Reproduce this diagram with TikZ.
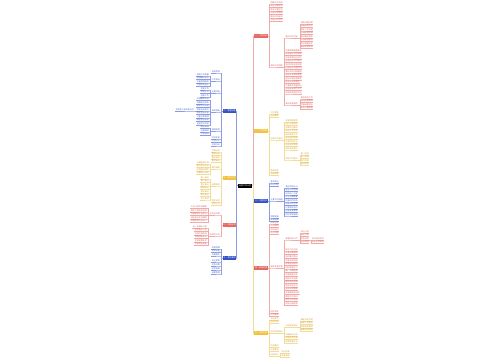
\documentclass[tikz,border=0pt]{standalone}
\usepackage{fontspec}
\setmainfont{Noto Sans CJK SC}

\definecolor{redA}{RGB}{230,104,98}
\definecolor{redB}{RGB}{240,170,170}
\definecolor{redT}{RGB}{214,100,95}
\definecolor{yelA}{RGB}{242,194,62}
\definecolor{yelB}{RGB}{242,220,150}
\definecolor{yelT}{RGB}{204,160,50}
\definecolor{bluA}{RGB}{52,82,196}
\definecolor{bluB}{RGB}{140,158,225}
\definecolor{bluT}{RGB}{80,104,200}

% children to the right of a node
\newcommand\kidsR[4]{%
  \foreach \y/\t [count=\i] in {#4}{%
    \node[leaf#3, anchor=south west, xshift=2pt] (#1k\i) at (#1.east |- 0,\y) {\t};
    \draw[line#3] (#1.#2) -- ++(1.5,0) |- (#1k\i.south west) -- (#1k\i.south east);
  }}
% children to the left of a node
\newcommand\kidsL[4]{%
  \foreach \y/\t [count=\i] in {#4}{%
    \node[leaf#3, anchor=south east, xshift=-2pt] (#1k\i) at (#1.west |- 0,\y) {\t};
    \draw[line#3] (#1.#2) -- ++(-1.5,0) |- (#1k\i.south east) -- (#1k\i.south west);
  }}

\begin{document}
\begin{tikzpicture}[x=1pt, y=-1pt,
      every node/.style={inner sep=0.35pt, font=\fontsize{2}{2.4}\selectfont},
      root/.style={fill=black, text=white, minimum height=3.6pt, inner xsep=1pt},
      branchR/.style={fill=redA, text=white, minimum height=3.4pt, inner xsep=0.8pt},
      branchY/.style={fill=yelA, text=white, minimum height=3.4pt, inner xsep=0.8pt},
      branchB/.style={fill=bluA, text=white, minimum height=3.4pt, inner xsep=0.8pt},
      leafR/.style={text=redT}, leafY/.style={text=yelT}, leafB/.style={text=bluT},
      lineR/.style={draw=redB, line width=0.3pt},
      lineY/.style={draw=yelB, line width=0.3pt},
      lineB/.style={draw=bluB, line width=0.3pt},
      trunkR/.style={draw=redB, line width=0.7pt},
      trunkY/.style={draw=yelB, line width=0.7pt},
      trunkB/.style={draw=bluB, line width=0.7pt}]
    \useasboundingbox (0,0) rectangle (500,360);

    \node[root] (root) at (245,185.8) {年度工作计划};

    % right side
    \node[branchR, anchor=west] (r1) at (254,36) {一、工作总结};
    \node[branchY, anchor=west] (r2) at (254,131) {二、工作思路};
    \node[branchB, anchor=west] (r3) at (254,201) {三、主要任务};
    \node[branchR, anchor=west] (r4) at (254,268) {四、实施步骤};
    \node[branchY, anchor=west] (r5) at (254,333) {五、活动安排};
    % left side
    \node[branchB, anchor=east] (l1) at (236.5,111) {六、管理措施};
    \node[branchY, anchor=east] (l2) at (236.5,178) {七、教学计划};
    \node[branchR, anchor=east] (l3) at (236.5,225) {八、问题反思};
    \node[branchB, anchor=east] (l4) at (236.5,258) {九、其他事项};

    \draw[trunkY] (root.east) -- ++(1,0) |- (r2.west);
    \draw[trunkR] (root.east) -- ++(1,0) |- (r1.west);
    \draw[trunkB] (root.east) -- ++(1,0) |- (r3.west);
    \draw[trunkR] (root.east) -- ++(1,0) |- (r4.west);
    \draw[trunkY] (root.east) -- ++(1,0) |- (r5.west);
    \draw[trunkY] (root.west) -- ++(-1,0) |- (l2.east);
    \draw[trunkB] (root.west) -- ++(-1,0) |- (l1.east);
    \draw[trunkR] (root.west) -- ++(-1,0) |- (l3.east);
    \draw[trunkB] (root.west) -- ++(-1,0) |- (l4.east);

    % branch 1
    \kidsR{r1}{east}{R}{4/明确工作目标, 7.5/制定学期计划, 11/落实主要任务, 14.5/加强日常管理,
      18/做好时间安排, 21.5/合理分工协作, 67/具体工作措施}
    \kidsR{r1k7}{south east}{R}{38/重点工作内容, 52/完善规章制度建设, 55.5/提高整体工作效率,
      59/开展专题培训活动, 62.5/定期召开工作会议, 66/及时检查反馈问题, 69.5/加强团队沟通交流,
      73/做好资料归档整理, 76.5/落实安全责任制度, 80/强化过程监督管理, 83.5/推进信息化建设,
      87/注重细节质量把控, 90.5/加强考核评价工作, 94/总结经验查找不足, 105/其他相关事项}
    \kidsR{r1k7k1}{south east}{R}{24/制定详细方案, 27.5/明确责任分工, 31/细化工作流程, 34.5/合理配置资源,
      38/按时推进落实, 41.5/加强跟踪督导, 45/及时调整优化, 48.5/确保取得实效}
    \kidsR{r1k7k15}{south east}{R}{99/做好宣传工作, 102.5/加强后勤保障, 106/完善档案资料, 109.5/配合上级检查}

    % branch 2
    \kidsR{r2}{east}{Y}{114/工作思路, 117.5/总体要求, 140/主要工作安排, 172/督促检查, 175.5/总结表彰}
    \kidsR{r2k3}{south east}{Y}{122/开展常规教育, 125.5/组织主题活动, 129/加强队伍建设, 132.5/改进工作方法,
      136/提升服务水平, 139.5/规范操作流程, 143/丰富活动形式, 146.5/营造良好氛围, 150/强化责任意识,
      160/阶段工作重点}
    \kidsR{r2k3k10}{south east}{Y}{155/第一阶段, 158.5/第二阶段, 162/第三阶段, 165.5/第四阶段}

    % branch 3
    \kidsR{r3}{east}{B}{183/基本情况, 186.5/存在问题, 201/主要工作措施, 218/预期效果, 221.5/保障措施}
    \kidsR{r3k3}{south east}{B}{188/强化思想认识, 191.5/健全工作机制, 195/加大投入力度, 198.5/优化资源配置,
      202/完善评价体系, 205.5/创新工作方式, 209/注重家校合作, 212.5/加强安全教育, 216/抓好常规管理}

    % branch 4
    \kidsR{r4}{east}{R}{224/指导思想, 227.5/工作原则, 231/总体目标, 234.5/任务分解, 268/具体实施步骤,
      313/组织领导, 316.5/工作要求}
    \kidsR{r4k5}{south east}{R}{240/准备阶段工作, 251/建立工作台账, 254.6/开展自查自纠, 258.2/组织集中整治,
      261.8/完善长效机制, 265.4/开展业务培训, 269/组织观摩学习, 272.6/推广先进经验, 276.2/加强督查指导,
      279.8/通报工作进展, 283.4/解决突出问题, 287/健全考评办法, 290.6/落实奖惩措施, 294.2/开展满意度测评,
      297.8/整理工作资料, 301.4/撰写工作总结, 305/迎接上级验收}
    \kidsR{r4k5k1}{south east}{R}{233/成立小组, 236.5/制定方案, 240/宣传动员, 243.5/摸底调查}
    \kidsR{r4k5k1k3}{south east}{R}{240/召开动员会议, 243.5/发放宣传资料}

    % branch 5
    \kidsR{r5}{east}{Y}{320/活动目的, 323.5/活动时间, 333/活动内容安排, 347.5/活动要求, 351/注意事项,
      356/总结评比}
    \kidsR{r5k3}{south east}{Y}{327/分组开展活动, 336/成果展示交流, 339.5/评选优秀作品, 343/颁发荣誉证书}
    \kidsR{r5k3k1}{south east}{Y}{321/确定活动主题, 324.5/组织人员报名, 328/安排指导教师, 331.5/准备活动物资}
    \kidsR{r5k6}{south east}{Y}{353.5/评比标准, 357/表彰奖励}

    % branch 6
    \kidsL{l1}{west}{B}{73/指导思想, 81/工作目标, 93/主要内容, 112/具体措施, 131/保障机制,
      139/时间安排, 142.5/人员分工, 146/考核办法}
    \kidsL{l1k2}{south west}{B}{76/提高工作质量, 79.5/增强服务意识, 83/完善管理制度, 86.5/打造优秀团队}
    \kidsL{l1k3}{south west}{B}{90/常规工作, 93.5/专项工作, 97/创新工作}
    \kidsL{l1k4}{south west}{B}{100.5/加强组织领导, 104/明确岗位职责, 107.5/规范工作流程, 111/落实目标责任,
      114.5/强化监督检查, 118/注重过程管理, 121.5/健全奖惩机制, 125/营造良好环境}
    \kidsL{l1k4k4}{south west}{B}{111/层层签订目标责任书}
    \kidsL{l1k5}{south west}{B}{128.5/制度保障, 132/经费保障, 135.5/人员保障}

    % branch 7
    \kidsL{l2}{west}{Y}{152/学情分析, 155.5/教材分析, 159/教学目标, 162.5/重点难点, 169/教学措施,
      186/进度安排, 202/教学反思, 205.5/评价方式}
    \kidsL{l2k5}{south west}{Y}{164/认真备课上课, 167.5/精心设计作业, 171/加强课后辅导, 174.5/注重能力培养}
    \kidsL{l2k6}{south west}{Y}{179/第一单元, 182.5/第二单元, 186/第三单元, 189.5/第四单元, 193/第五单元,
      196.5/第六单元, 200/复习考试}

    % branch 8
    \kidsL{l3}{west}{R}{215/存在的问题, 236/改进的方向}
    \kidsL{l3k1}{south west}{R}{208.5/工作计划不够细致, 212/落实力度有待加强, 215.5/沟通协调不够及时,
      219/创新意识比较薄弱, 222.5/总结反思不够深入}
    \kidsL{l3k2}{south west}{R}{228/进一步细化计划, 231.5/加大落实力度, 235/加强沟通协调, 238.5/增强创新意识,
      242/坚持定期反思, 245.5/不断改进提高}

    % branch 9
    \kidsL{l4}{west}{B}{249/经费预算, 252.5/物资准备, 256/后勤服务, 262/安全预案, 266/应急处置,
      270/宣传报道, 274/档案管理}
\end{tikzpicture}
\end{document}
